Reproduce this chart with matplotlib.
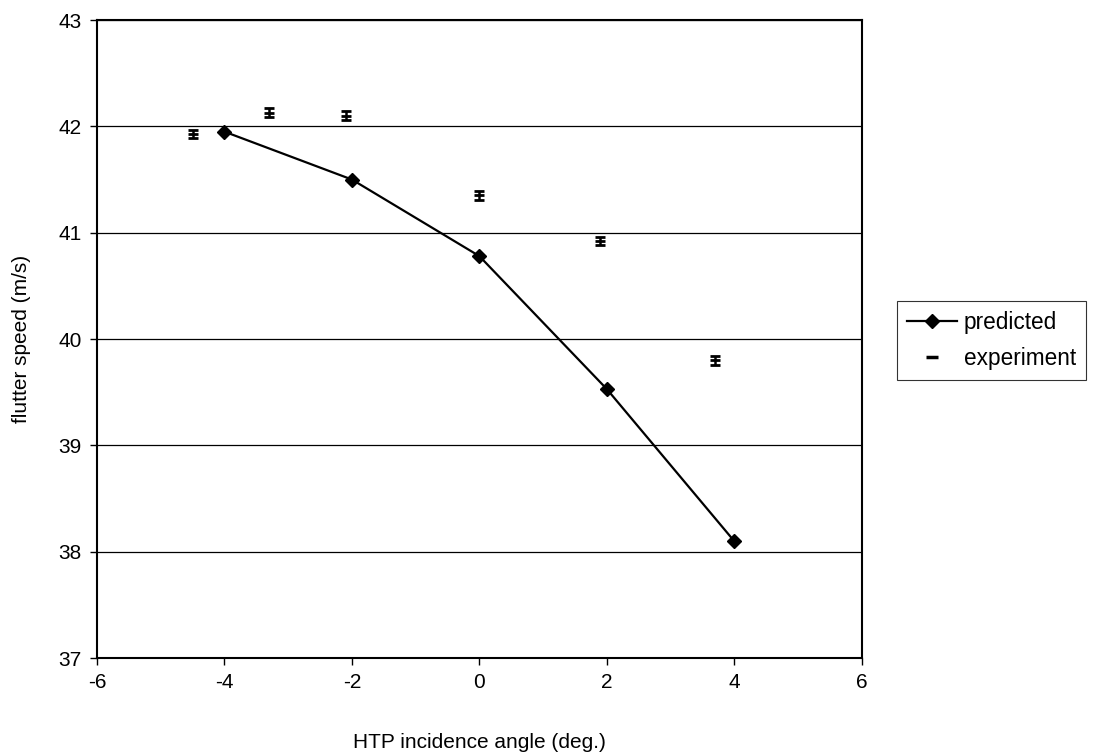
import matplotlib.pyplot as plt
from matplotlib.lines import Line2D

plt.rcParams["font.family"] = ["Liberation Sans", "DejaVu Sans"]
plt.rcParams["axes.unicode_minus"] = False

# predicted flutter speed vs HTP incidence
pred_angle = [-4, -2, 0, 2, 4]
pred_speed = [41.95, 41.50, 40.78, 39.53, 38.10]

# experiment with small error bars
exp_angle = [-4.5, -3.3, -2.1, 0.0, 1.9, 3.7]
exp_speed = [41.93, 42.13, 42.10, 41.35, 40.92, 39.80]
exp_err = [0.04, 0.04, 0.04, 0.04, 0.04, 0.04]

fig = plt.figure(figsize=(10.99, 7.56), dpi=100)
ax = fig.add_axes([0.0883, 0.1296, 0.6957, 0.8439])

ax.grid(axis="y", color="black", linewidth=0.9)
ax.set_axisbelow(True)

ax.plot(pred_angle, pred_speed, color="black", linewidth=1.6,
        marker="D", markersize=7.5, zorder=3)
ax.errorbar(exp_angle, exp_speed, yerr=exp_err, fmt="_", color="black",
            markersize=7, capsize=3.6, elinewidth=1.8, capthick=1.8,
            markeredgewidth=2, zorder=3)

ax.set_xlim(-6, 6)
ax.set_ylim(37, 43)
ax.set_xticks([-6, -4, -2, 0, 2, 4, 6])
ax.set_yticks([37, 38, 39, 40, 41, 42, 43])
ax.tick_params(direction="out", length=5, width=1, labelsize=15, pad=6)
for s in ax.spines.values():
    s.set_linewidth(1.5)

ax.set_xlabel("HTP incidence angle (deg.)", fontsize=15, labelpad=29)
ax.set_ylabel("flutter speed (m/s)", fontsize=15, labelpad=20)

handles = [
    Line2D([], [], color="black", linewidth=1.6, marker="D", markersize=7),
    Line2D([], [], color="black", linestyle="none", marker="_",
           markersize=8, markeredgewidth=2.5),
]
leg = fig.legend(handles, ["predicted", "experiment"], loc="center left",
                 bbox_to_anchor=(0.816, 0.5496), fontsize=16.3, frameon=True,
                 fancybox=False, edgecolor="black", handlelength=2.2,
                 borderpad=0.45, labelspacing=0.55, handletextpad=0.3,
                 borderaxespad=0)
leg.get_frame().set_linewidth(0.8)

fig.savefig("out.png", dpi=100)
